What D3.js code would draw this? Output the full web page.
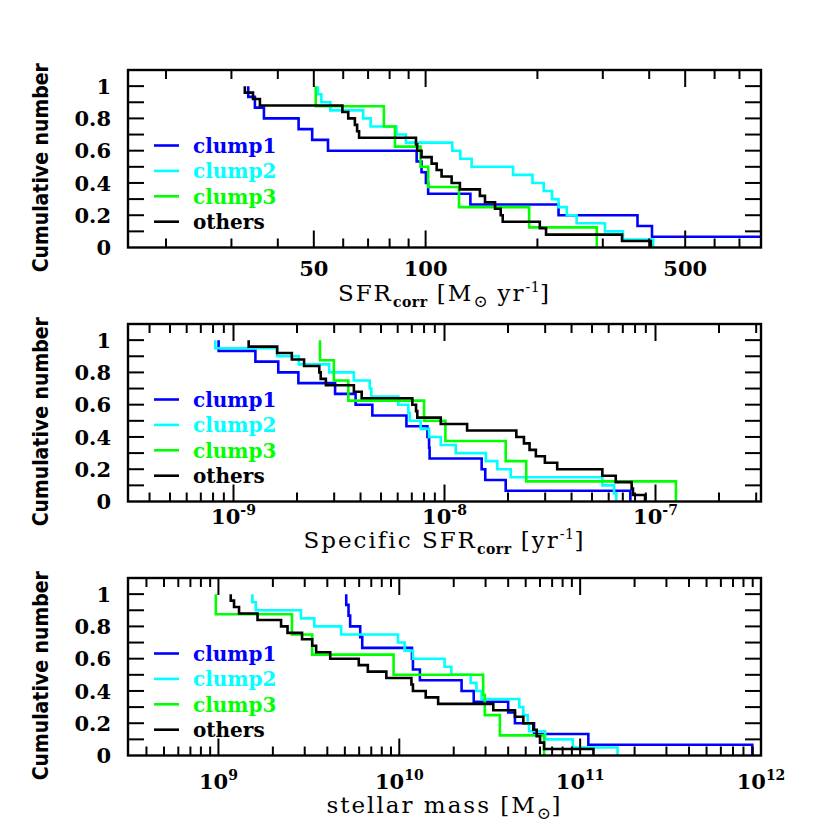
<!DOCTYPE html>
<html>
<head>
<meta charset="utf-8">
<script src="https://cdn.jsdelivr.net/npm/d3@7"></script>
<style>
body { margin: 0; background: #fff; }
svg text { font-family: "DejaVu Serif", serif; }
</style>
</head>
<body>
<svg id="chart" width="830" height="830"></svg>
<script>
// values (each list = one group, in its own units)
let sfrClump1 = [33.3, 34.7, 36.7, 45.5, 49.5, 54.6, 94.6, 97.5, 100.2, 101.6, 132, 228, 372, 407, 1200];
let sfrClump2 = [51.3, 52.4, 55.4, 67.9, 71.1, 83.5, 88.5, 118, 124, 133, 172, 194, 208, 219, 228, 240, 255, 304, 340, 410];
let sfrClump3 = [50.6, 77.2, 82.7, 96.9, 101.6, 123, 190, 289];
let sfrOthers = [32.6, 34.3, 35.8, 59.7, 61.9, 64.5, 65.4, 66.2, 94.2, 94.9, 97.5, 103.8, 107.1, 110.4, 117.5,
    123.7, 140, 144.5, 153.8, 159.3, 161.3, 203, 211, 338, 404];

let ssfrClump1 = [8.5e-10, 1.27e-9, 1.63e-9, 2.03e-9, 3.03e-9, 3.79e-9, 4.55e-9, 6.6e-9, 8.3e-9, 8.45e-9,
    8.5e-9, 1.5e-8, 1.56e-8, 1.95e-8, 7.6e-8];
let ssfrClump2 = [8.2e-10, 1.61e-9, 2.04e-9, 2.84e-9, 3.72e-9, 4.42e-9, 4.5e-9, 6.04e-9, 6.74e-9, 6.84e-9,
    7.71e-9, 8.45e-9, 9.6e-9, 1.13e-8, 1.57e-8, 1.78e-8, 2.06e-8, 5.6e-8, 6.36e-8, 6.52e-8];
let ssfrClump3 = [2.57e-9, 2.99e-9, 3.5e-9, 8.0e-9, 1.01e-8, 1.95e-8, 2.44e-8, 1.25e-7];
let ssfrOthers = [1.18e-9, 1.61e-9, 1.89e-9, 2.16e-9, 2.55e-9, 2.59e-9, 2.74e-9, 3.72e-9, 4.05e-9, 7.04e-9,
    7.33e-9, 7.43e-9, 9.6e-9, 1.28e-8, 2.19e-8, 2.38e-8, 2.53e-8, 2.71e-8, 2.99e-8, 3.42e-8,
    5.6e-8, 6.48e-8, 7.71e-8, 7.82e-8, 8.92e-8];

let massClump1 = [5.09e9, 5.24e9, 5.35e9, 6.08e9, 6.24e9, 1.175e10, 1.19e10, 1.3e10, 2.21e10, 2.58e10,
    4.0e10, 4.36e10, 5.56e10, 1.11e11, 8.95e11];
let massClump2 = [1.54e9, 1.61e9, 2.86e9, 3.39e9, 4.77e9, 9.83e9, 1.07e10, 1.19e10, 1.78e10, 1.94e10,
    2.48e10, 2.67e10, 2.85e10, 4.61e10, 4.85e10, 5.13e10, 5.22e10, 6.4e10, 9.11e10, 1.61e11];
let massClump3 = [9.67e8, 2.55e9, 3.3e9, 9.3e9, 2.91e10, 2.97e10, 3.6e10, 6.32e10];
let massOthers = [1.17e9, 1.22e9, 1.3e9, 1.645e9, 2.22e9, 2.41e9, 2.9e9, 3.3e9, 3.47e9, 4.15e9,
    5.97e9, 6.7e9, 8.48e9, 1.167e10, 1.19e10, 1.4e10, 1.64e10, 3.31e10, 4.36e10, 4.85e10,
    5.51e10, 5.75e10, 6.0e10, 6.32e10, 1.185e11];

let seriesNames = ['clump1', 'clump2', 'clump3', 'others'];
let seriesColors = ['#0000ff', '#00ffff', '#00ff00', '#000000'];

let yTickLabels = [0, 0.2, 0.4, 0.6, 0.8, 1];
let sfrTickLabels = [50, 100, 500];
let ssfrTickLabels = [1e-9, 1e-8, 1e-7];
let massTickLabels = [1e9, 1e10, 1e11, 1e12];

var left = 128,
    right = 761,
    panelH = 177.5;

var panels = [
    {
        top: 70, domain: [15.8, 800],
        series: [sfrClump1, sfrClump2, sfrClump3, sfrOthers],
        labels: sfrTickLabels, power: false,
        labelBase: 276, titleBase: 301,
        title: [['SFR'], ['corr', 'sub'], [' [M'], ['\u2299', 'sub'], [' yr'], ['-1', 'sup'], [']']]
    },
    {
        top: 324, domain: [Math.pow(10, -9.5), Math.pow(10, -6.5)],
        series: [ssfrClump1, ssfrClump2, ssfrClump3, ssfrOthers],
        labels: ssfrTickLabels, power: true,
        labelBase: 524, titleBase: 548,
        title: [['Specific SFR'], ['corr', 'sub'], [' [yr'], ['-1', 'sup'], [']']]
    },
    {
        top: 578, domain: [Math.pow(10, 8.5), 1e12],
        series: [massClump1, massClump2, massClump3, massOthers],
        labels: massTickLabels, power: true,
        labelBase: 789, titleBase: 813,
        title: [['stellar mass [M'], ['\u2299', 'sub'], [']']]
    }
];

var svg = d3.select('#chart');

panels.forEach(function(p, pi) {
    var bottom = p.top + panelH;
    var x = d3.scaleLog().domain(p.domain).range([left, right]);
    var y = d3.scaleLinear().domain([0, 1.1]).range([bottom, p.top]);

    var clipId = 'clip' + pi;
    svg.append('clipPath').attr('id', clipId)
        .append('rect')
        .attr('x', left).attr('y', p.top)
        .attr('width', right - left).attr('height', panelH);

    // cumulative step curves: fraction of objects with value >= x
    var line = d3.line().x(function(d) { return x(d[0]); }).y(function(d) { return y(d[1]); });
    p.series.forEach(function(vals, si) {
        var sorted = vals.slice().sort(d3.ascending);
        var n = sorted.length;
        var pts = [];
        sorted.forEach(function(v, i) {
            pts.push([v, 1 - i / n]);
            pts.push([v, 1 - (i + 1) / n]);
        });
        svg.append('path')
            .attr('clip-path', 'url(#' + clipId + ')')
            .attr('d', line(pts))
            .attr('fill', 'none')
            .attr('stroke', seriesColors[si])
            .attr('stroke-width', 2.6)
            .attr('stroke-linejoin', 'miter');
    });

    // frame
    svg.append('rect')
        .attr('x', left).attr('y', p.top)
        .attr('width', right - left).attr('height', panelH)
        .attr('fill', 'none').attr('stroke', '#000').attr('stroke-width', 2.4);

    var ticks = svg.append('g').attr('stroke', '#000').attr('stroke-width', 2);

    function isMajor(t) {
        return p.labels.some(function(m) { return Math.abs(Math.log10(t) - Math.log10(m)) < 1e-6; });
    }

    x.ticks().forEach(function(t) {
        var len = isMajor(t) ? 17 : 9;
        var xp = x(t);
        if (xp <= left + 1 || xp >= right - 1) return;
        ticks.append('line').attr('x1', xp).attr('x2', xp).attr('y1', bottom).attr('y2', bottom - len);
        ticks.append('line').attr('x1', xp).attr('x2', xp).attr('y1', p.top).attr('y2', p.top + len);
    });

    y.ticks(11).forEach(function(t) {
        if (t <= 0 || t > 1.05) return;
        var yp = y(t);
        ticks.append('line').attr('x1', left).attr('x2', left + 16).attr('y1', yp).attr('y2', yp);
        ticks.append('line').attr('x1', right).attr('x2', right - 16).attr('y1', yp).attr('y2', yp);
    });

    // y tick labels
    yTickLabels.forEach(function(t) {
        svg.append('text')
            .attr('x', 111).attr('y', y(t)).attr('dy', '0.36em')
            .attr('text-anchor', 'end')
            .attr('font-size', 21)
            .attr('font-weight', 'bold')
            .text(String(t));
    });

    // x tick labels
    p.labels.forEach(function(t) {
        var lab = svg.append('text')
            .attr('x', x(t)).attr('y', p.labelBase)
            .attr('text-anchor', 'middle')
            .attr('font-size', 21)
            .attr('font-weight', 'bold');
        if (p.power) {
            lab.append('tspan').text('10');
            lab.append('tspan').attr('dy', -9).attr('font-size', 14)
                .text(String(Math.round(Math.log10(t))));
        } else {
            lab.text(String(t));
        }
    });

    // axis title
    var title = svg.append('text')
        .attr('x', (left + right) / 2).attr('y', p.titleBase)
        .attr('text-anchor', 'middle')
        .attr('font-size', 23)
        .attr('letter-spacing', 2);
    var shift = 0;
    p.title.forEach(function(seg) {
        var target = seg[1] === 'sub' ? 6 : seg[1] === 'sup' ? -9 : 0;
        var ts = title.append('tspan').attr('dy', target - shift).text(seg[0]);
        if (seg[1]) ts.attr('font-size', seg[0] === '\u2299' ? 17 : 14).attr('letter-spacing', 0.5);
        if (seg[1] === 'sub' && seg[0] === 'corr') ts.attr('font-weight', 'bold');
        shift = target;
    });

    // y axis title
    svg.append('text')
        .attr('transform', 'translate(40,' + (p.top + panelH / 2 + 9) + ') rotate(-90)')
        .attr('dy', '0.36em')
        .attr('text-anchor', 'middle')
        .style('font-family', '"DejaVu Sans Condensed", "DejaVu Sans", sans-serif')
        .style('font-stretch', 'condensed')
        .attr('font-weight', 'bold')
        .attr('font-size', 21)
        .text('Cumulative number');

    // legend
    seriesNames.forEach(function(name, si) {
        var ly = p.top + 75.5 + si * 25.4;
        svg.append('line')
            .attr('x1', left + 26).attr('x2', left + 51)
            .attr('y1', ly).attr('y2', ly)
            .attr('stroke', seriesColors[si]).attr('stroke-width', 2.6);
        svg.append('text')
            .attr('x', left + 65).attr('y', ly).attr('dy', '0.36em')
            .attr('font-size', 20).attr('font-weight', 'bold')
            .attr('fill', seriesColors[si])
            .text(name);
    });
});
</script>
</body>
</html>
